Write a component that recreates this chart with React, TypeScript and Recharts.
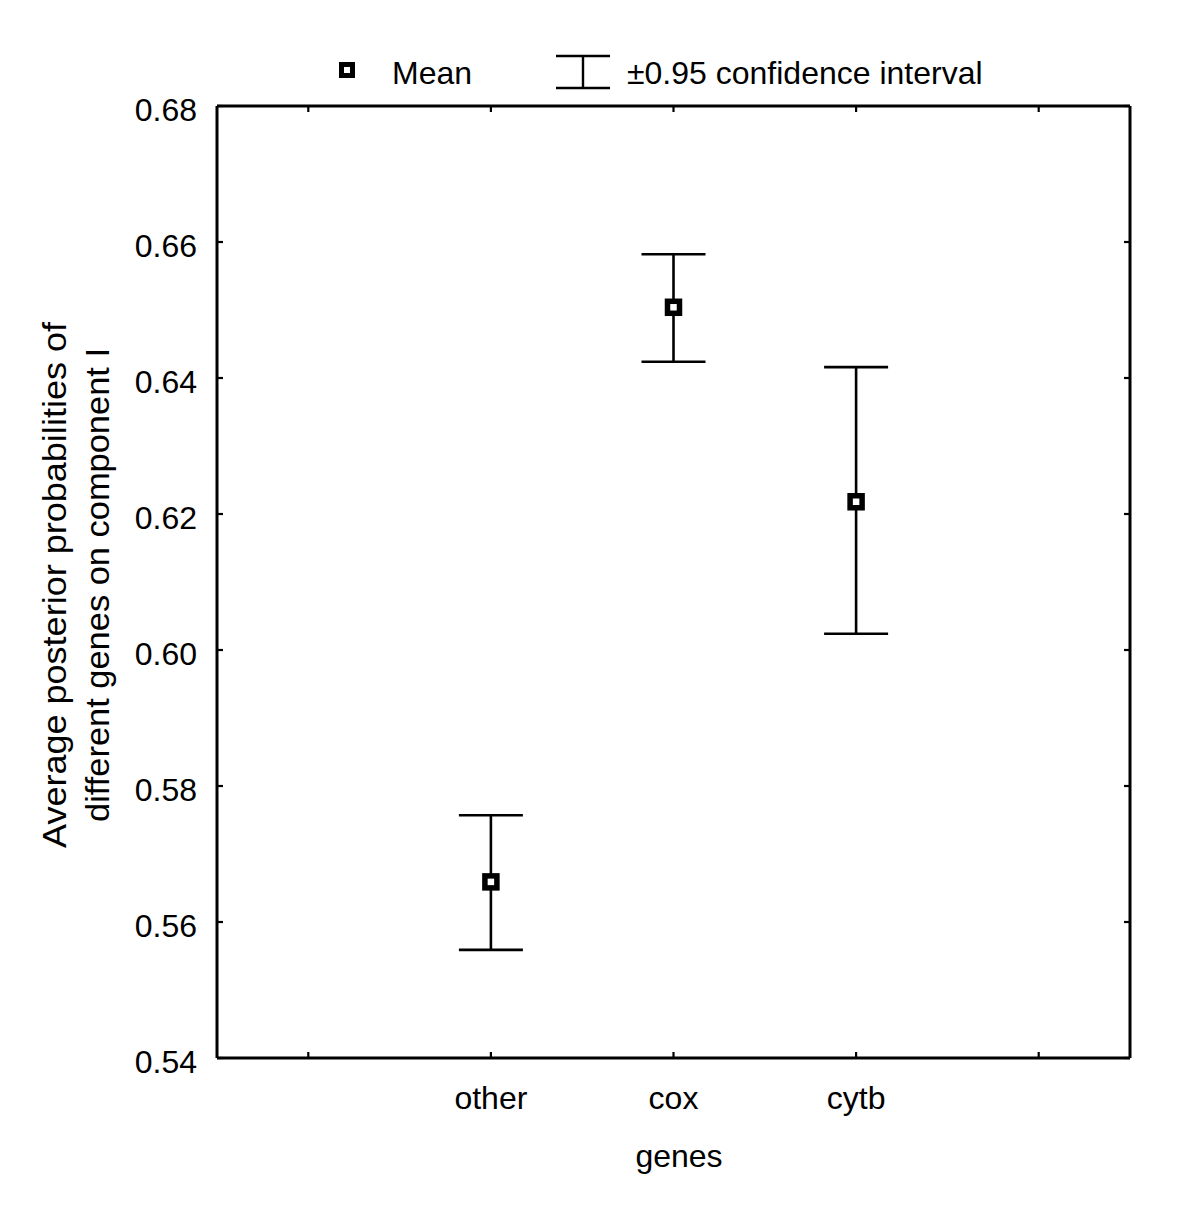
import React from 'react';
import { ComposedChart, Scatter, ErrorBar, XAxis, YAxis, Legend } from 'recharts';

// ---- data ----
const genes = ['', 'other', 'cox', 'cytb', ' '];
const means: (number | null)[] = [null, 0.5659, 0.6504, 0.6218, null];
const lowerCI: (number | null)[] = [null, 0.5559, 0.6424, 0.6024, null];
const upperCI: (number | null)[] = [null, 0.5757, 0.6582, 0.6416, null];
const yTicks = [0.54, 0.56, 0.58, 0.6, 0.62, 0.64, 0.66, 0.68];
const yDomain = [0.54, 0.68];

const data = genes.map((g, i) => {
  const m = means[i];
  const lo = lowerCI[i];
  const hi = upperCI[i];
  return {
    gene: g,
    mean: m,
    err: m == null || lo == null || hi == null ? null : [m - lo, hi - m],
  };
});

// ---- layout ----
const W = 1200;
const H = 1205;
const PL = 217;
const PR = 1130;
const PT = 106;
const PB = 1058;
const FONT = '"Liberation Sans", Arial, Helvetica, sans-serif';
const FS = 32;

const YTick = (props: any) => {
  const { y, payload } = props;
  return (
    <g>
      <line x1={PL} x2={PL + 6} y1={y} y2={y} stroke="#000" strokeWidth={2.2} />
      <line x1={PR - 6} x2={PR} y1={y} y2={y} stroke="#000" strokeWidth={2.2} />
      <text x={PL - 20} y={y + 4} dy="0.355em" textAnchor="end" fontFamily={FONT} fontSize={FS} fill="#000">
        {Number(payload.value).toFixed(2)}
      </text>
    </g>
  );
};

const XTick = (props: any) => {
  const { x, payload } = props;
  const label = String(payload.value).trim();
  return (
    <g>
      <line x1={x} x2={x} y1={PB} y2={PB - 6} stroke="#000" strokeWidth={2.2} />
      <line x1={x} x2={x} y1={PT} y2={PT + 6} stroke="#000" strokeWidth={2.2} />
      {label ? (
        <text x={x} y={PB + 51} textAnchor="middle" fontFamily={FONT} fontSize={FS} fill="#000">
          {label}
        </text>
      ) : null}
    </g>
  );
};

const XLabel = () => (
  <text x={679} y={1167} textAnchor="middle" fontFamily={FONT} fontSize={FS} fill="#000">
    genes
  </text>
);

const YLabel = () => (
  <g>
    <text x={66} y={585} transform="rotate(-90 66 585)" textAnchor="middle" fontFamily={FONT} fontSize={33}
      textLength={526} lengthAdjust="spacingAndGlyphs" fill="#000">
      Average posterior probabilities of
    </text>
    <text x={109} y={585} transform="rotate(-90 109 585)" textAnchor="middle" fontFamily={FONT} fontSize={33}
      textLength={474} lengthAdjust="spacingAndGlyphs" fill="#000">
      different genes on component I
    </text>
  </g>
);

const MeanShape = (props: any) => {
  const { cx, cy, payload } = props;
  if (!payload || payload.mean == null || cx == null || cy == null) return <g />;
  return <rect x={cx - 6} y={cy - 6} width={12} height={12} fill="#fff" stroke="#000" strokeWidth={5.5} />;
};

const LegendContent = () => (
  <svg width={W} height={100} style={{ display: 'block' }}>
    <rect x={341.5} y={64.5} width={11} height={11} fill="#fff" stroke="#000" strokeWidth={5} />
    <text x={392} y={84} fontFamily={FONT} fontSize={FS} fill="#000">Mean</text>
    <line x1={556} x2={610} y1={56} y2={56} stroke="#000" strokeWidth={2.6} />
    <line x1={556} x2={610} y1={88} y2={88} stroke="#000" strokeWidth={2.6} />
    <line x1={583} x2={583} y1={56} y2={88} stroke="#000" strokeWidth={2.4} />
    <text x={627} y={84} fontFamily={FONT} fontSize={FS} fill="#000">±0.95 confidence interval</text>
  </svg>
);

export default function App() {
  return (
    <div style={{ position: 'absolute', left: 0, top: 0, width: W, height: H, background: '#fff' }}>
      <ComposedChart
        width={W}
        height={H}
        data={data}
        margin={{ top: PT - 1, right: W - PR - 1, left: PL - 80, bottom: H - PB - 60 }}
      >
        <XAxis
          dataKey="gene"
          type="category"
          scale="band"
          interval={0}
          height={60}
          tickSize={0}
          tickMargin={0}
          tickLine={false}
          axisLine={{ stroke: '#000', strokeWidth: 3 }}
          tick={<XTick />}
          label={<XLabel />}
        />
        <XAxis
          xAxisId="top"
          dataKey="gene"
          scale="band"
          orientation="top"
          height={1}
          tick={false}
          tickLine={false}
          axisLine={{ stroke: '#000', strokeWidth: 3 }}
        />
        <YAxis
          type="number"
          domain={yDomain}
          ticks={yTicks}
          interval={0}
          width={80}
          tickSize={0}
          tickMargin={20}
          tickLine={false}
          axisLine={{ stroke: '#000', strokeWidth: 3 }}
          tick={<YTick />}
          label={<YLabel />}
          allowDataOverflow
        />
        <YAxis
          yAxisId="right"
          orientation="right"
          type="number"
          domain={yDomain}
          width={1}
          tick={false}
          tickLine={false}
          axisLine={{ stroke: '#000', strokeWidth: 3 }}
        />
        <Legend
          layout="horizontal"
          verticalAlign="middle"
          align="center"
          content={<LegendContent />}
          wrapperStyle={{ position: 'absolute', left: 0, top: 0, width: W, height: 100 }}
        />
        <Scatter dataKey="mean" isAnimationActive={false} shape={<MeanShape />}>
          <ErrorBar dataKey="err" direction="y" width={32} stroke="#000" strokeWidth={2.6} isAnimationActive={false} />
        </Scatter>
      </ComposedChart>
    </div>
  );
}
